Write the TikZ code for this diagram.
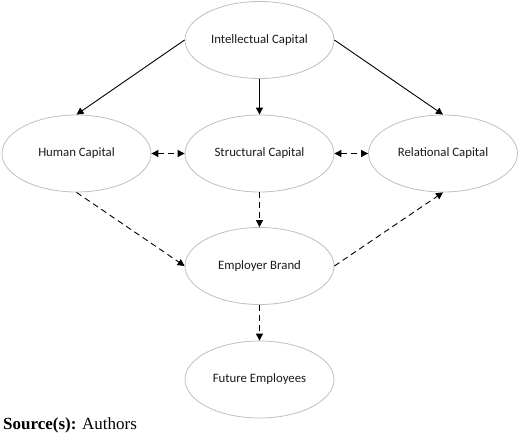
\documentclass[tikz,border=0pt]{standalone}
\usepackage{fontspec}
\setmainfont{Carlito}
\newfontfamily\srcfont{Liberation Serif}
\usetikzlibrary{shapes.geometric,arrows.meta}
\definecolor{edgegray}{HTML}{BFBFBF}
\definecolor{txt}{HTML}{1A1A1A}
\begin{document}
\begin{tikzpicture}[x=1pt,y=-1pt,
  capnode/.style={ellipse,draw=edgegray,line width=0.8pt,minimum width=149pt,minimum height=77pt,inner sep=0pt,font=\fontsize{12.8}{14}\selectfont,text=txt},
  solidarrow/.style={line width=0.9pt,-{Triangle[length=7pt,width=7pt]}},
  dasharrow/.style={line width=0.9pt,dash pattern=on 6pt off 4pt,-{Triangle[length=7pt,width=7pt]}},
  dbldash/.style={line width=0.9pt,dash pattern=on 6pt off 4pt,{Triangle[length=7pt,width=7pt]}-{Triangle[length=7pt,width=7pt]}}]
\useasboundingbox (0,0) rectangle (520,435);
\node[capnode] (ic) at (259.5,40) {Intellectual Capital};
\node[capnode] (hc) at (76.5,153.5) {Human Capital};
\node[capnode] (sc) at (259.5,153.5) {Structural Capital};
\node[capnode] (rc) at (443,153.5) {Relational Capital};
\node[capnode] (eb) at (259.5,266) {Employer Brand};
\node[capnode] (fe) at (259.5,379.5) {Future Employees};
\node[anchor=base west,inner sep=0pt,font=\srcfont\fontsize{17}{19}\selectfont] (src) at (3,430) {\textbf{Source(s):} Authors};
\draw[solidarrow] (ic.west) -- (hc.north);
\draw[solidarrow] (ic.south) -- (sc.north);
\draw[solidarrow] (ic.east) -- (rc.north);
\draw[dbldash] (hc.east) -- (sc.west);
\draw[dbldash] (sc.east) -- (rc.west);
\draw[dasharrow] (hc.south) -- (eb.west);
\draw[dasharrow] (sc.south) -- (eb.north);
\draw[dasharrow] (eb.east) -- (rc.south);
\draw[dasharrow] (eb.south) -- (fe.north);
\end{tikzpicture}
\end{document}
